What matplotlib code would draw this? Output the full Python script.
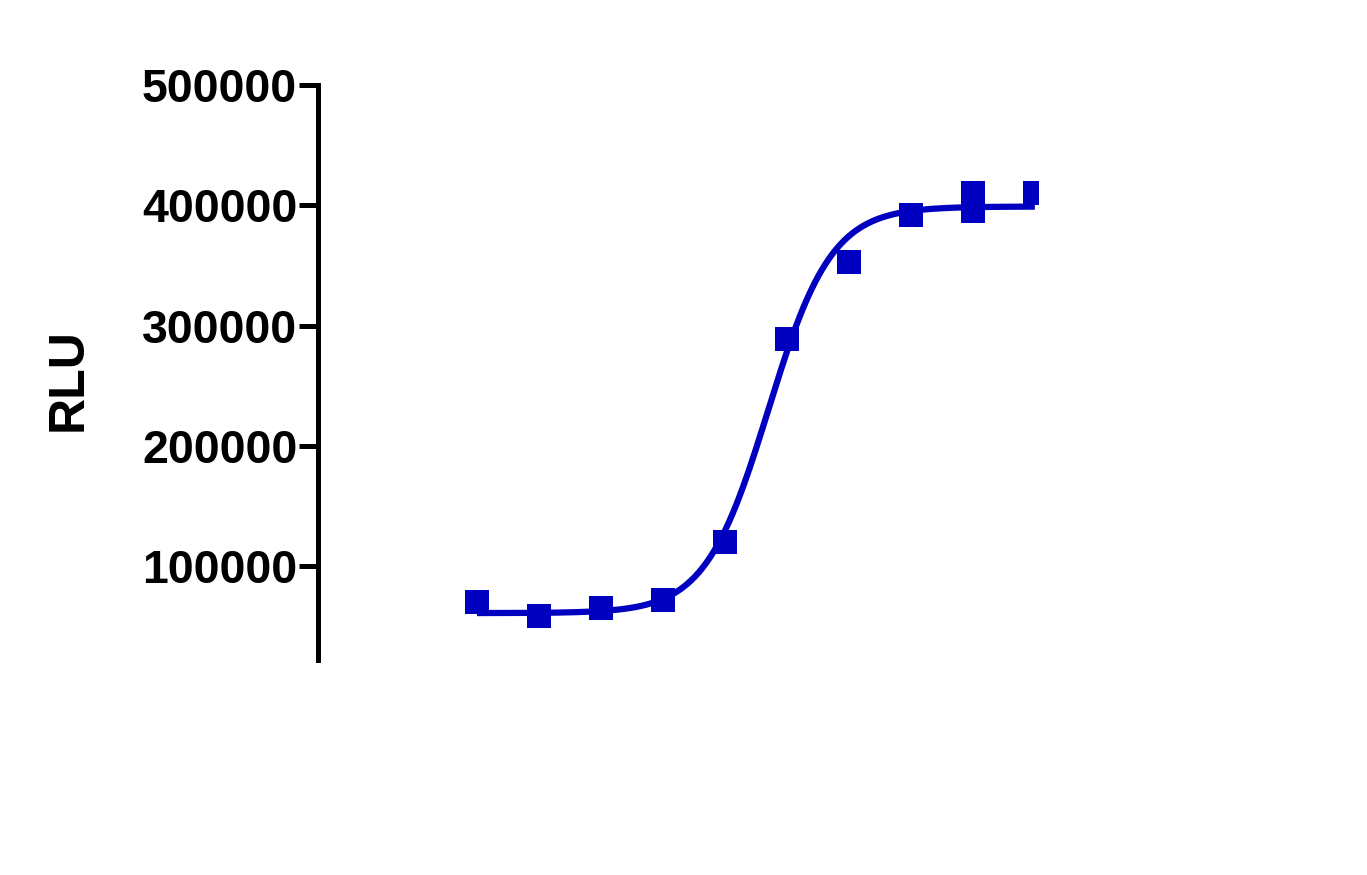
import numpy as np
import matplotlib
matplotlib.use('Agg')
import matplotlib.pyplot as plt

# log concentration steps (x axis is hidden in the original)
log_conc = [1, 2, 3, 4, 5, 6, 7, 8, 9, 9, 10]
rlu = [70000, 58500, 65000, 71500, 120000, 288500, 353000, 392000, 410000, 395000, 410000]

# 4PL fit parameters
fit_bottom = 61000
fit_top = 399000
fit_logec50 = 5.7
fit_hill = 0.85

plt.rcParams['font.family'] = ['Liberation Sans', 'DejaVu Sans']
blue = '#0000C0'

fig = plt.figure(figsize=(13.67, 8.75), dpi=100)
ax = fig.add_axes([0.2326, 0.2457, 0.5267, 0.6571])

xs = np.linspace(min(log_conc), max(log_conc), 300)
ys = fit_bottom + (fit_top - fit_bottom) / (1 + 10 ** ((fit_logec50 - xs) * fit_hill))
ax.plot(xs, ys, color=blue, lw=4.5, solid_capstyle='butt')
ax.plot(log_conc, rlu, 's', color=blue, markersize=17.5, markeredgewidth=0)

ax.set_xlim(-1.565, 10.05)
ax.set_ylim(22000, 500000)
ax.set_yticks([100000, 200000, 300000, 400000, 500000])
ax.set_yticklabels(['100000', '200000', '300000', '400000', '500000'])

for s in ['top', 'right', 'bottom']:
    ax.spines[s].set_visible(False)
ax.spines['left'].set_linewidth(3.6)
ax.set_xticks([])
ax.tick_params(axis='y', length=14, width=3.6, labelsize=33.5, pad=1)
for lab in ax.get_yticklabels():
    lab.set_fontweight('bold')

ax.set_ylabel('RLU', fontsize=36, fontweight='bold')
ax.yaxis.set_label_coords(-0.314, 0.487)

fig.savefig('out.png', dpi=100)
